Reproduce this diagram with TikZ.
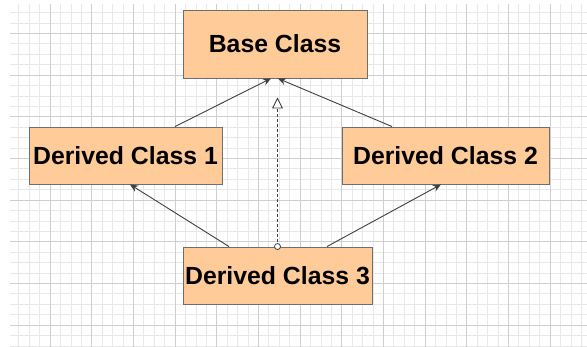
\documentclass[tikz,border=0pt]{standalone}
\usepackage{fontspec}
\setmainfont{Liberation Sans}
\usetikzlibrary{arrows.meta,calc}
\definecolor{boxfill}{HTML}{FFCC99}
\definecolor{boxline}{HTML}{6E6E6E}
\definecolor{minorgrid}{HTML}{E8E8E8}
\definecolor{majorgrid}{HTML}{CFCFCF}
\definecolor{conn}{HTML}{404040}
\begin{document}
\begin{tikzpicture}[x=1pt,y=-1pt,
  classbox/.style={draw=boxline, line width=0.9pt, fill=boxfill, inner sep=0pt,
    font=\fontsize{24.8}{29}\selectfont\bfseries, text=black},
  assoc/.style={draw=conn, line width=0.9pt, -{Stealth[length=8pt,width=7pt]}},
  realize/.style={draw=conn, line width=0.9pt, dash pattern=on 2.5pt off 2.5pt,
    -{Triangle[open,length=11pt,width=11pt,fill=white]}},
  minorline/.style={draw=minorgrid, line width=0.6pt},
  majorline/.style={draw=majorgrid, line width=0.8pt}]
\useasboundingbox (0,0) rectangle (587,347);
\fill[white] (0,0) rectangle (587,347);
% grid
\begin{scope}
\clip (10,5) rectangle (587,347);
\foreach \i in {0,...,56} {\draw[minorline] ({8.333+\i*10.4167},0) -- ({8.333+\i*10.4167},347);}
\foreach \j in {0,...,33} {\draw[minorline] (0,{2.083+\j*10.4167}) -- (587,{2.083+\j*10.4167});}
\foreach \i in {0,...,13} {\draw[majorline] ({8.333+\i*41.667},0) -- ({8.333+\i*41.667},347);}
\foreach \j in {0,...,8} {\draw[majorline] (0,{-8.333+\j*41.667}) -- (587,{-8.333+\j*41.667});}
\end{scope}
% nodes
\node[classbox, minimum width=184pt, minimum height=68pt] (base) at (275,44) {Base Class};
\node[classbox, minimum width=193pt, minimum height=57pt] (d1) at (125.5,155.5) {Derived Class 1};
\node[classbox, minimum width=207pt, minimum height=57pt] (d2) at (445.5,155.5) {Derived Class 2};
\node[classbox, minimum width=189pt, minimum height=57pt] (d3) at (277.5,275.5) {Derived Class 3};
% connectors
\draw[assoc] ([xshift=49.5pt]d1.north) -- ([xshift=-4pt]base.south);
\draw[assoc] ([xshift=-53.5pt]d2.north) -- ([xshift=3pt]base.south);
\draw[assoc] ([xshift=-48.5pt]d3.north) -- ([xshift=4.5pt]d1.south);
\draw[assoc] ([xshift=49.5pt]d3.north) -- ([xshift=-4.5pt]d2.south);
\coordinate (rtip) at (278,97.5);
\draw[realize] (d3.north) -- (d3.north |- rtip);
\draw[draw=conn, line width=0.8pt, fill=white] (d3.north) circle (3pt);
\end{tikzpicture}
\end{document}
